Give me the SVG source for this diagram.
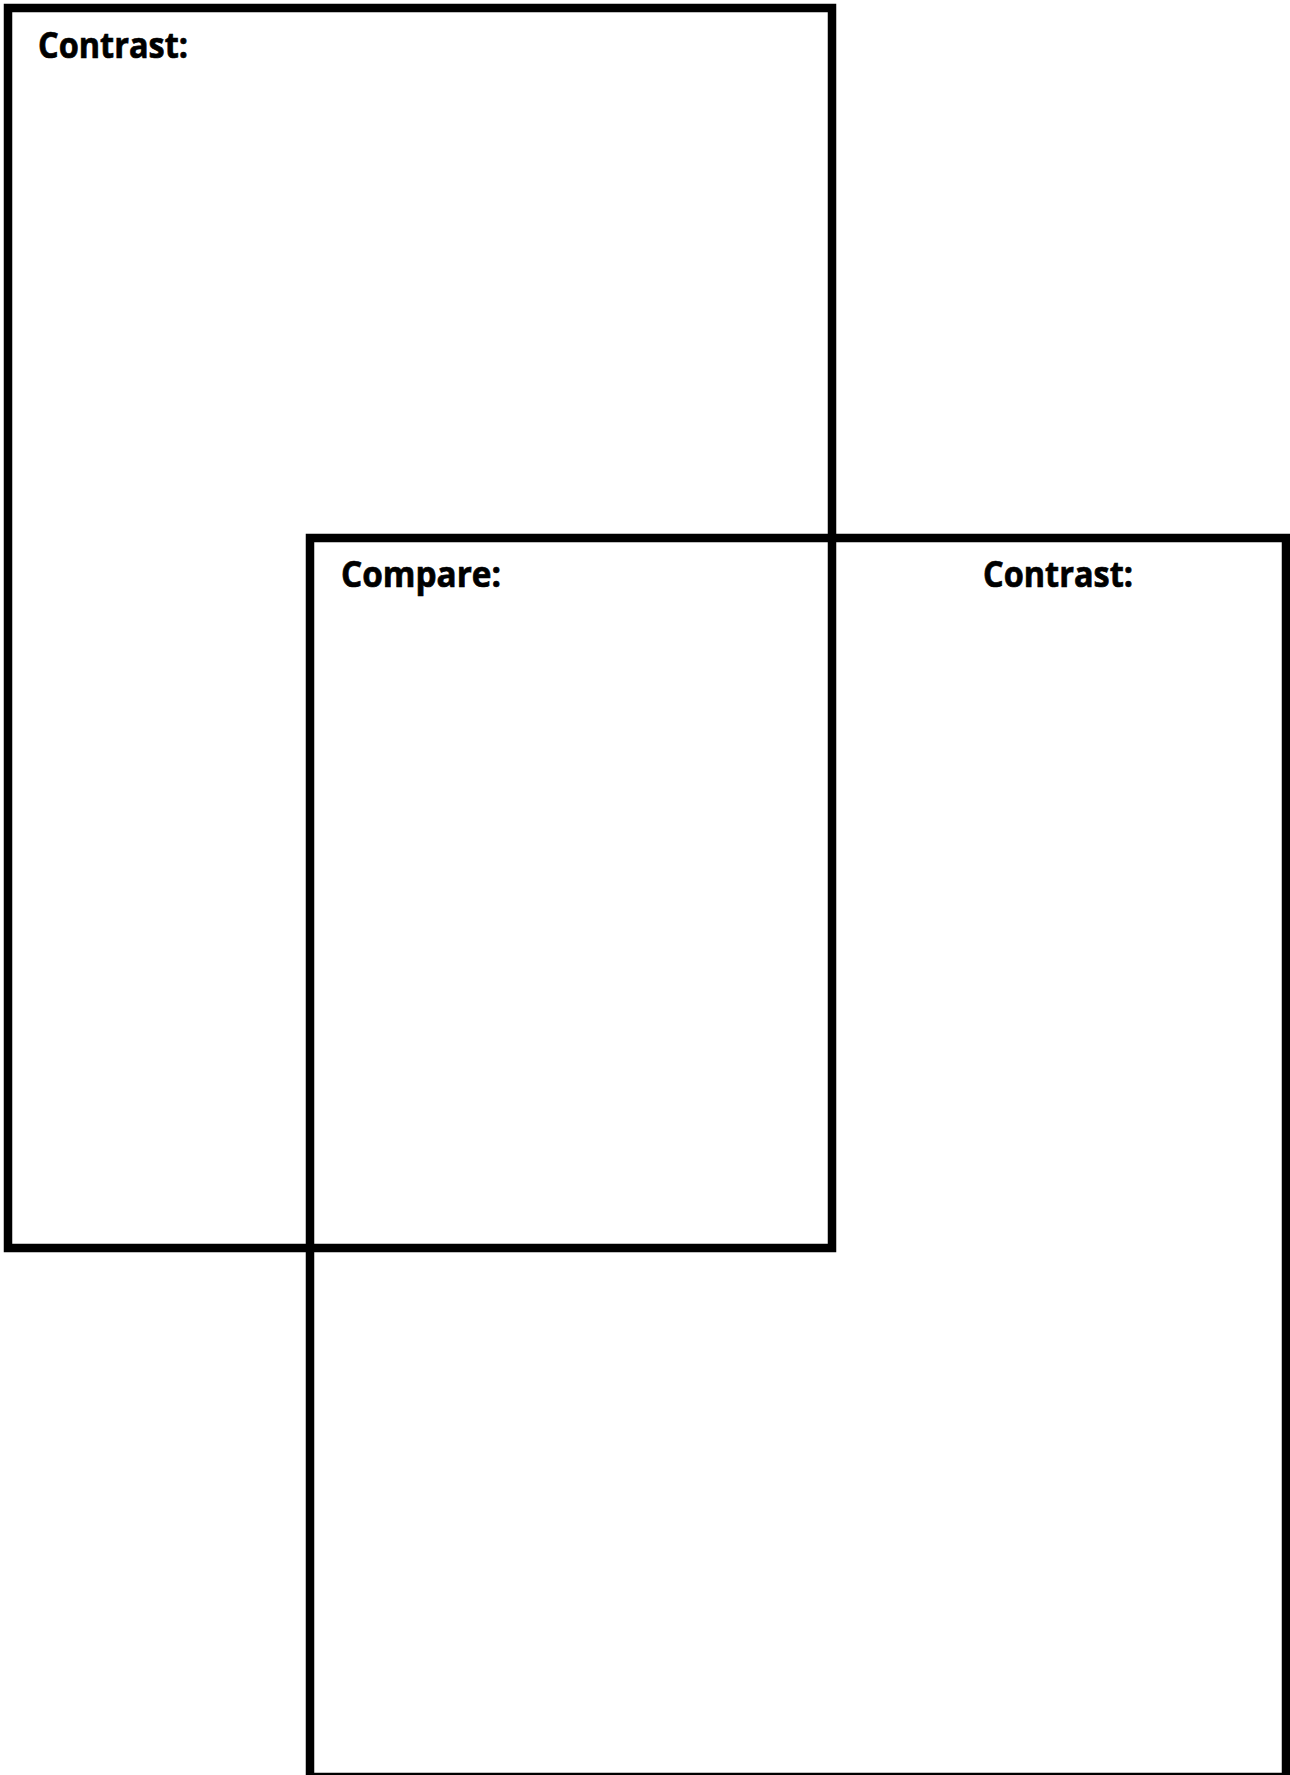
<svg xmlns="http://www.w3.org/2000/svg" width="1290" height="1775" viewBox="0 0 1290 1775">
<style>
.box{fill:none;stroke:#000;stroke-width:8.5}
.lbl{font-family:"Open Sans","Liberation Sans",sans-serif;font-weight:700;font-size:35px;fill:#000;stroke:#000;stroke-width:0.7}
</style>
<rect width="1290" height="1775" fill="#fff"/>
<g id="left-box">
<rect class="box" x="8" y="8" width="824" height="1240"/>
<text class="lbl" x="38" y="58" textLength="150" lengthAdjust="spacingAndGlyphs">Contrast:</text>
</g>
<g id="right-box">
<rect class="box" x="310" y="538" width="976" height="1239"/>
<text class="lbl" x="341" y="587" textLength="160" lengthAdjust="spacingAndGlyphs">Compare:</text>
<text class="lbl" x="983" y="587" textLength="150" lengthAdjust="spacingAndGlyphs">Contrast:</text>
</g>
<g id="connectors"></g>
</svg>
